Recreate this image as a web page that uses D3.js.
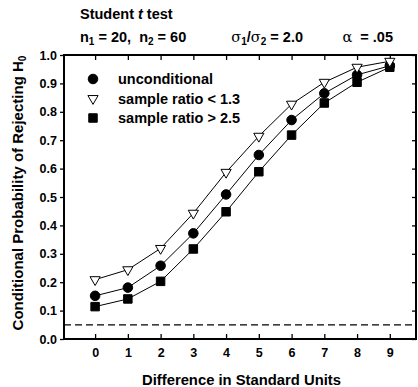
<!DOCTYPE html>
<html>
<head>
<meta charset="utf-8">
<script src="https://cdn.jsdelivr.net/npm/d3@7"></script>
<style>
  body { margin: 0; background: #fff; }
  svg text { font-family: "Liberation Sans", Arial, sans-serif; font-weight: bold; fill: #000; white-space: pre; }
</style>
</head>
<body>
<div class="chart-container"></div>
<script>
// values
let diffs = [0, 1, 2, 3, 4, 5, 6, 7, 8, 9];
let unconditional = [0.152, 0.181, 0.258, 0.372, 0.509, 0.648, 0.771, 0.865, 0.930, 0.962];
let ratioBelow13 = [0.209, 0.244, 0.319, 0.443, 0.587, 0.714, 0.827, 0.904, 0.957, 0.978];
let ratioAbove25 = [0.114, 0.141, 0.203, 0.317, 0.448, 0.589, 0.718, 0.831, 0.904, 0.957];
let yTicks = [0, 0.1, 0.2, 0.3, 0.4, 0.5, 0.6, 0.7, 0.8, 0.9, 1.0];
let alphaLevel = 0.05;

let w = 418;
let h = 387;
let plotL = 64, plotR = 416, plotT = 55, plotB = 339;

let svg = d3.select(".chart-container").append("svg")
    .attr("width", w)
    .attr("height", h);

let xScale = d3.scaleLinear().domain([-0.95, 9.8]).range([plotL, plotR]);
let yScale = d3.scaleLinear().domain([0, 1]).range([plotB, plotT]);

let big = "14.5px", sub = "10px";

// headings
let t1 = svg.append("text").attr("x", 80).attr("y", 19).style("font-size", big);
t1.append("tspan").text("Student ");
t1.append("tspan").style("font-style", "italic").text("t");
t1.append("tspan").text(" test");

let t2 = svg.append("text").attr("x", 80).attr("y", 42).style("font-size", big);
t2.append("tspan").text("n");
t2.append("tspan").attr("dy", 3).style("font-size", sub).text("1");
t2.append("tspan").attr("dy", -3).text(" = 20,  n");
t2.append("tspan").attr("dy", 3).style("font-size", sub).text("2");
t2.append("tspan").attr("dy", -3).text(" = 60");

let t3 = svg.append("text").attr("x", 303).attr("y", 42).attr("text-anchor", "end").style("font-size", big);
t3.append("tspan").style("font-family", "DejaVu Serif").style("font-weight", "normal").text("σ");
t3.append("tspan").attr("dy", 3).style("font-size", sub).text("1");
t3.append("tspan").attr("dy", -3).text("/");
t3.append("tspan").style("font-family", "DejaVu Serif").style("font-weight", "normal").text("σ");
t3.append("tspan").attr("dy", 3).style("font-size", sub).text("2");
t3.append("tspan").attr("dy", -3).text(" = 2.0");

let t4 = svg.append("text").attr("x", 393).attr("y", 42).attr("text-anchor", "end").style("font-size", big);
t4.append("tspan").style("font-family", "DejaVu Serif").style("font-weight", "normal").text("α");
t4.append("tspan").text("  = .05");

// axes
let xAxis = d3.axisBottom(xScale).tickValues(diffs).tickSizeInner(-5).tickSizeOuter(0).tickPadding(9);
svg.append("g").attr("id", "x-axis")
    .attr("transform", `translate(0, ${plotB})`)
    .call(xAxis);
let xTop = d3.axisTop(xScale).tickValues(diffs).tickSizeInner(-5).tickSizeOuter(0).tickFormat("");
svg.append("g").attr("transform", `translate(0, ${plotT})`).call(xTop);

let yAxis = d3.axisLeft(yScale).tickValues(yTicks).tickFormat(d3.format(".1f")).tickSizeInner(4).tickSizeOuter(0).tickPadding(3);
svg.append("g").attr("id", "y-axis")
    .attr("transform", `translate(${plotL}, 0)`)
    .call(yAxis);
let yRight = d3.axisRight(yScale).tickValues(yTicks).tickSizeInner(-4).tickSizeOuter(0).tickFormat("");
svg.append("g").attr("transform", `translate(${plotR}, 0)`).call(yRight);

svg.selectAll(".tick text").style("font-size", "12.5px").style("font-family", "Liberation Sans, Arial, sans-serif");
svg.selectAll(".domain").remove();
svg.selectAll(".tick line").attr("stroke", "#000").attr("stroke-width", 1.3);

// frame
svg.append("rect")
    .attr("x", plotL).attr("y", plotT)
    .attr("width", plotR - plotL).attr("height", plotB - plotT)
    .attr("fill", "none").attr("stroke", "#000").attr("stroke-width", 2);

// alpha reference line
svg.append("line")
    .attr("x1", plotL).attr("x2", plotR)
    .attr("y1", yScale(alphaLevel)).attr("y2", yScale(alphaLevel))
    .attr("stroke", "#000").attr("stroke-width", 1.3)
    .attr("stroke-dasharray", "7,4");

// series
let line = d3.line().x((d, i) => xScale(diffs[i])).y(d => yScale(d));
[ratioBelow13, unconditional, ratioAbove25].forEach(s => {
    svg.append("path").datum(s).attr("d", line)
        .attr("fill", "none").attr("stroke", "#000").attr("stroke-width", 1);
});

let tri = d3.symbol().type(d3.symbolTriangle).size(45);
let circ = d3.symbol().type(d3.symbolCircle).size(72);
let sq = d3.symbol().type(d3.symbolSquare).size(72);

function drawMarks(series, sym, fill, rot) {
    svg.append("g").selectAll("path").data(series).enter().append("path")
        .attr("d", sym)
        .attr("transform", (d, i) => `translate(${xScale(diffs[i])}, ${yScale(d)}) rotate(${rot})`)
        .attr("fill", fill).attr("stroke", "#000").attr("stroke-width", 1);
}
drawMarks(ratioAbove25, sq, "#000", 0);
drawMarks(unconditional, circ, "#000", 0);
drawMarks(ratioBelow13, tri, "#fff", 180);

// legend
let legend = [
    { label: "unconditional", sym: circ, fill: "#000", rot: 0 },
    { label: "sample ratio < 1.3", sym: tri, fill: "#fff", rot: 180 },
    { label: "sample ratio > 2.5", sym: sq, fill: "#000", rot: 0 }
];
legend.forEach((d, i) => {
    let y = 79 + i * 19.5;
    svg.append("path").attr("d", d.sym)
        .attr("transform", `translate(93, ${y}) rotate(${d.rot})`)
        .attr("fill", d.fill).attr("stroke", "#000").attr("stroke-width", 1);
    svg.append("text").attr("x", 118).attr("y", y + 5)
        .style("font-size", big).text(d.label);
});

// axis titles
svg.append("text")
    .attr("x", 241.5).attr("y", 385)
    .attr("text-anchor", "middle").style("font-size", "14.8px")
    .text("Difference in Standard Units");

let yt = svg.append("text")
    .attr("transform", `translate(23, 193) rotate(-90)`)
    .attr("text-anchor", "middle").style("font-size", "15px");
yt.append("tspan").text("Conditional Probability of Rejecting H");
yt.append("tspan").attr("dy", 3).style("font-size", sub).text("0");
</script>
</body>
</html>
